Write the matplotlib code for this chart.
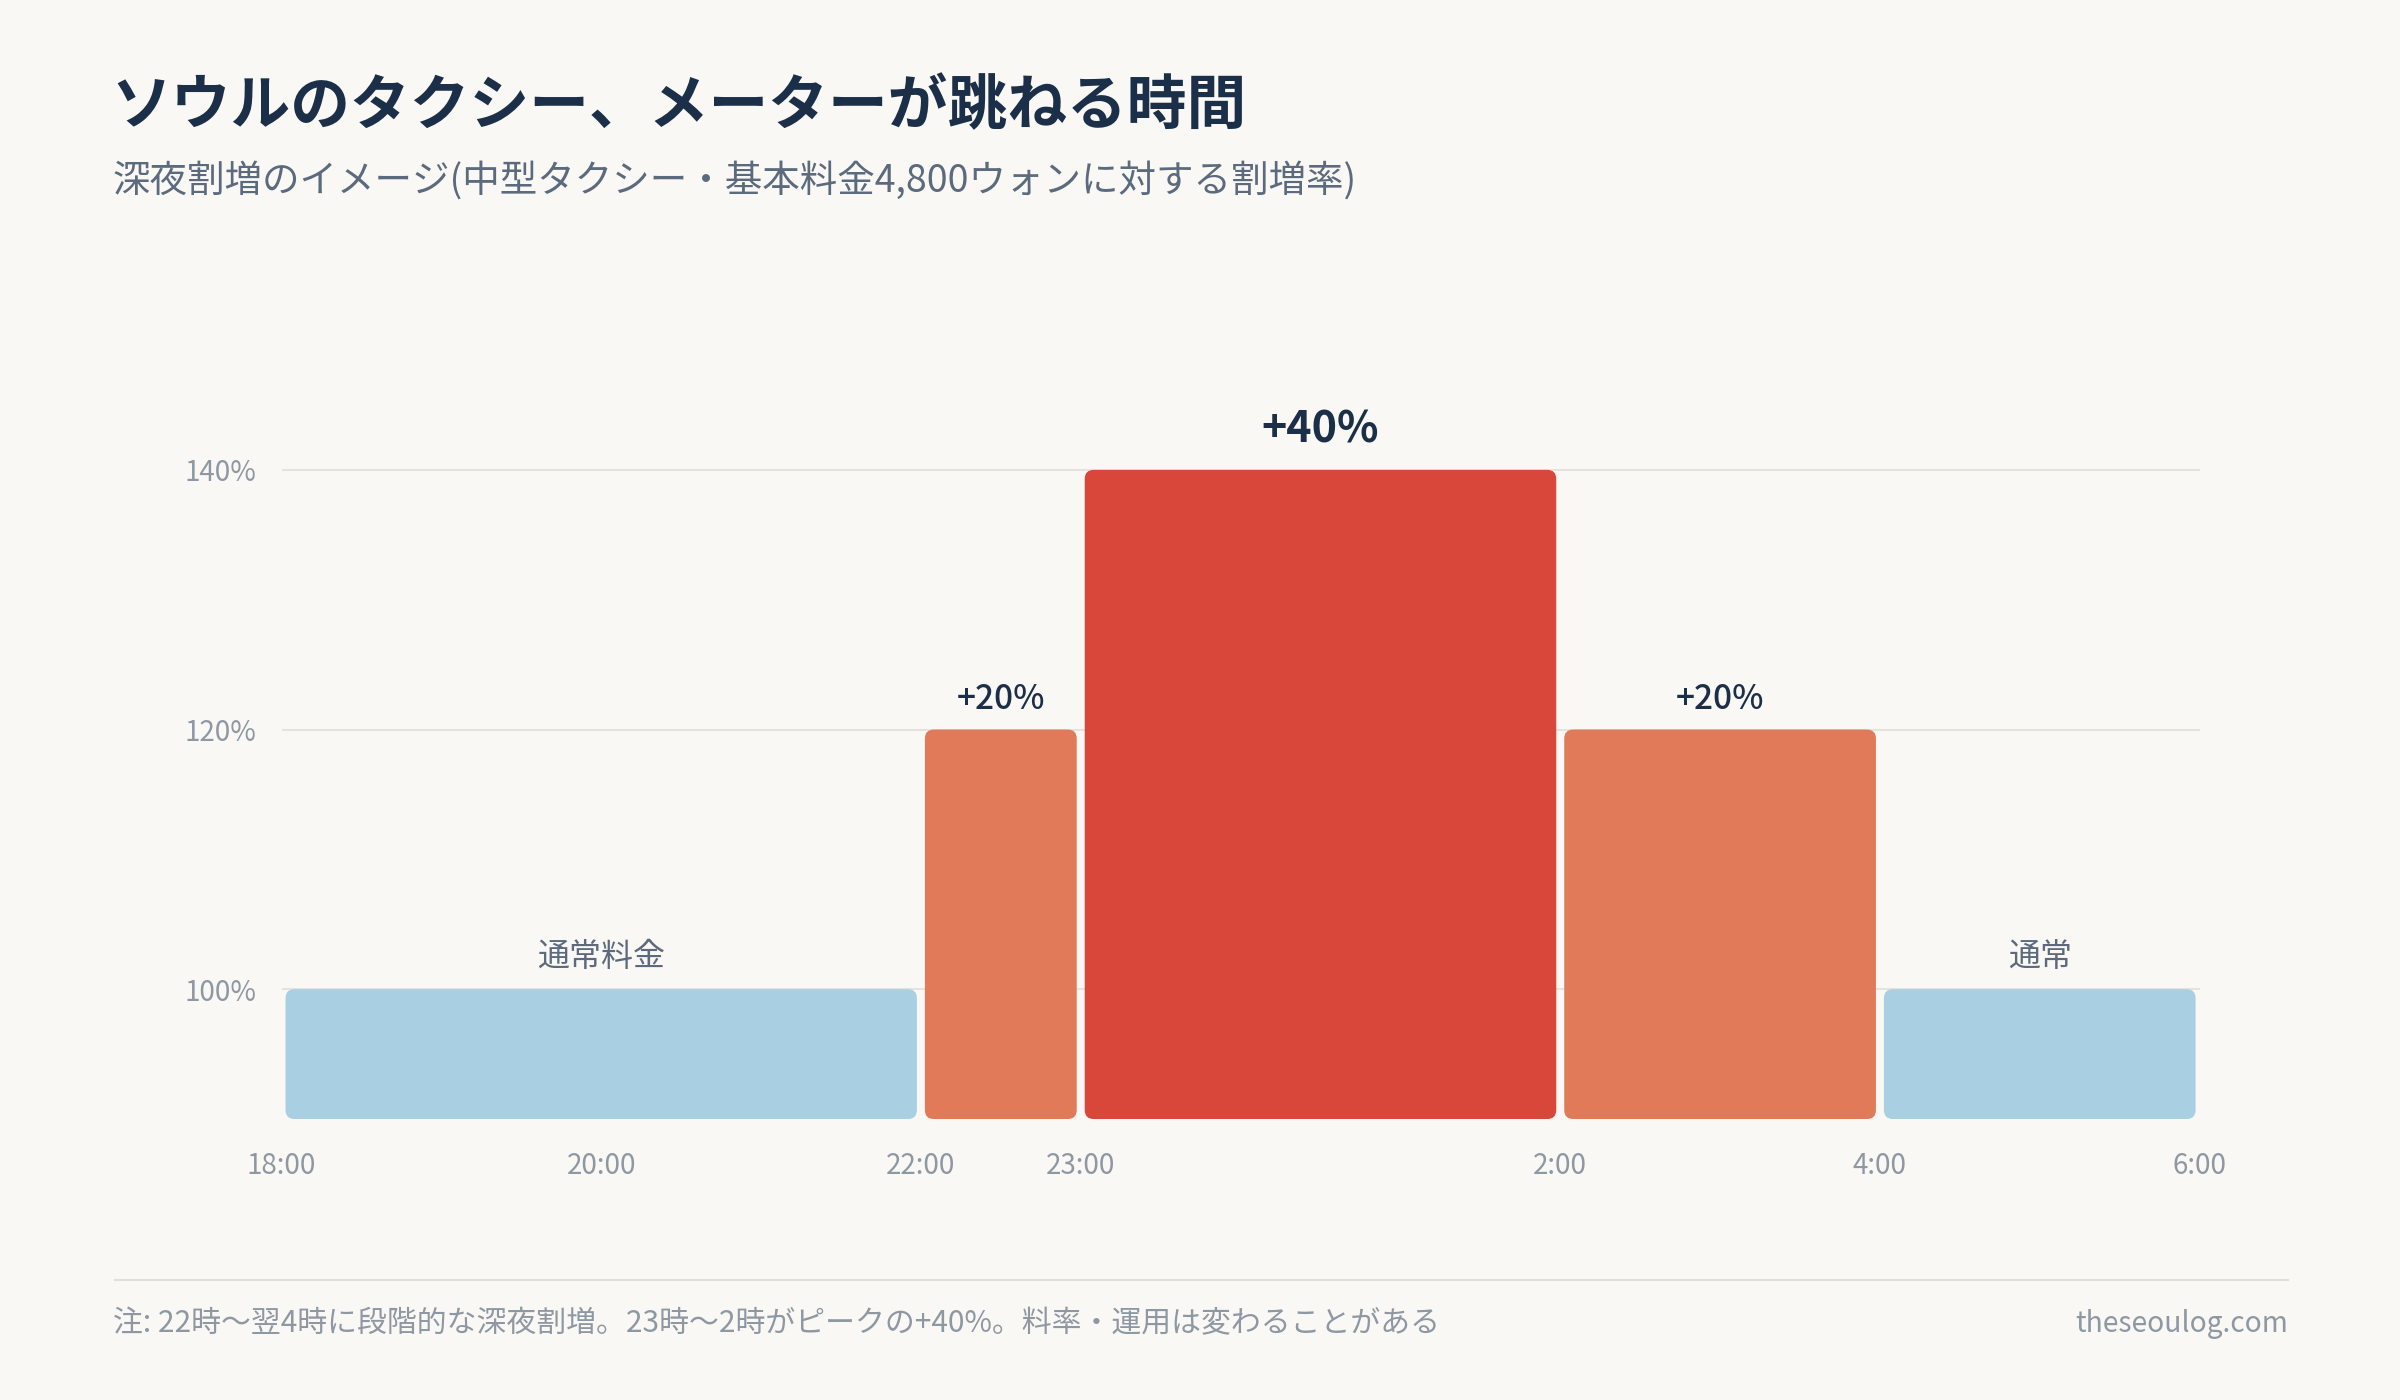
import matplotlib
matplotlib.use("Agg")
import matplotlib.pyplot as plt
from matplotlib.patches import FancyBboxPatch

plt.rcParams['font.family'] = ['Noto Sans CJK JP', 'DejaVu Sans']

# hours counted from 18:00
starts = [0, 4, 5, 8, 10]
ends = [4, 5, 8, 10, 12]
rates = [100, 120, 140, 120, 100]
bar_labels = ['通常料金', '+20%', '+40%', '+20%', '通常']
bar_colors = ['#a9cfe2', '#e07a59', '#d9473b', '#e07a59', '#a9cfe2']
tick_pos = [0, 2, 4, 5, 8, 10, 12]
tick_labels = ['18:00', '20:00', '22:00', '23:00', '2:00', '4:00', '6:00']
y_ticks = [100, 120, 140]

bg = '#faf8f4'
navy = '#1b3048'
grey = '#5b6b7d'
light = '#8e98a3'

fig = plt.figure(figsize=(24, 14), dpi=100, facecolor=bg)
ax = fig.add_axes([0.1173, 0.2007, 0.7992, 0.5564])
ax.set_facecolor(bg)
ax.set_xlim(0, 12)
ax.set_ylim(90, 150)

# pixel -> data conversions for rounded corners and gaps
xpx = 12 / (0.7992 * 2400)
ypx = 60 / (0.5564 * 1400)
inset = 4 * xpx
rad = 9 * xpx

for s, e, v, c, lab in zip(starts, ends, rates, bar_colors, bar_labels):
    p = FancyBboxPatch((s + inset, 90), (e - s) - 2 * inset, v - 90,
                       boxstyle=f"round,pad=0,rounding_size={rad}",
                       mutation_aspect=ypx / xpx,
                       facecolor=c, edgecolor='none', zorder=3)
    ax.add_patch(p)
    mid = (s + e) / 2
    if lab == '+40%':
        ax.text(mid, v + 3.1, lab, ha='center', va='center', fontsize=31,
                fontweight='bold', color=navy)
    elif lab.startswith('+'):
        ax.text(mid, v + 2.35, lab, ha='center', va='center', fontsize=24,
                fontweight='medium', color=navy)
    else:
        ax.text(mid, v + 2.45, lab, ha='center', va='center', fontsize=23,
                color=grey)

ax.set_xticks(tick_pos)
ax.set_xticklabels(tick_labels)
ax.set_yticks(y_ticks)
ax.set_yticklabels([f'{t}%' for t in y_ticks])
ax.tick_params(axis='both', length=0, labelsize=20, labelcolor=light)
ax.tick_params(axis='x', pad=23)
ax.tick_params(axis='y', pad=18)
ax.grid(axis='y', color='#e5e3de', linewidth=1.5, zorder=0)
ax.grid(axis='x', visible=False)
for sp in ax.spines.values():
    sp.set_visible(False)

fig.text(0.0465, 0.9235, 'ソウルのタクシー、メーターが跳ねる時間', fontsize=43,
         fontweight='bold', color=navy, va='center')
fig.text(0.047, 0.8705, '深夜割増のイメージ(中型タクシー・基本料金4,800ウォンに対する割増率)',
         fontsize=27, color=grey, va='center')

fig.add_artist(plt.Line2D([0.048, 0.9533], [0.0857, 0.0857], color='#e2e0da',
                          linewidth=1.5, transform=fig.transFigure))
fig.text(0.047, 0.0545, '注: 22時～翌4時に段階的な深夜割増。23時～2時がピークの+40%。料率・運用は変わることがある',
         fontsize=21.5, color=light, va='center')
fig.text(0.9533, 0.0545, 'theseoulog.com', fontsize=20.3, color=light,
         va='center', ha='right')

fig.savefig('out.png', dpi=100, facecolor=bg)
